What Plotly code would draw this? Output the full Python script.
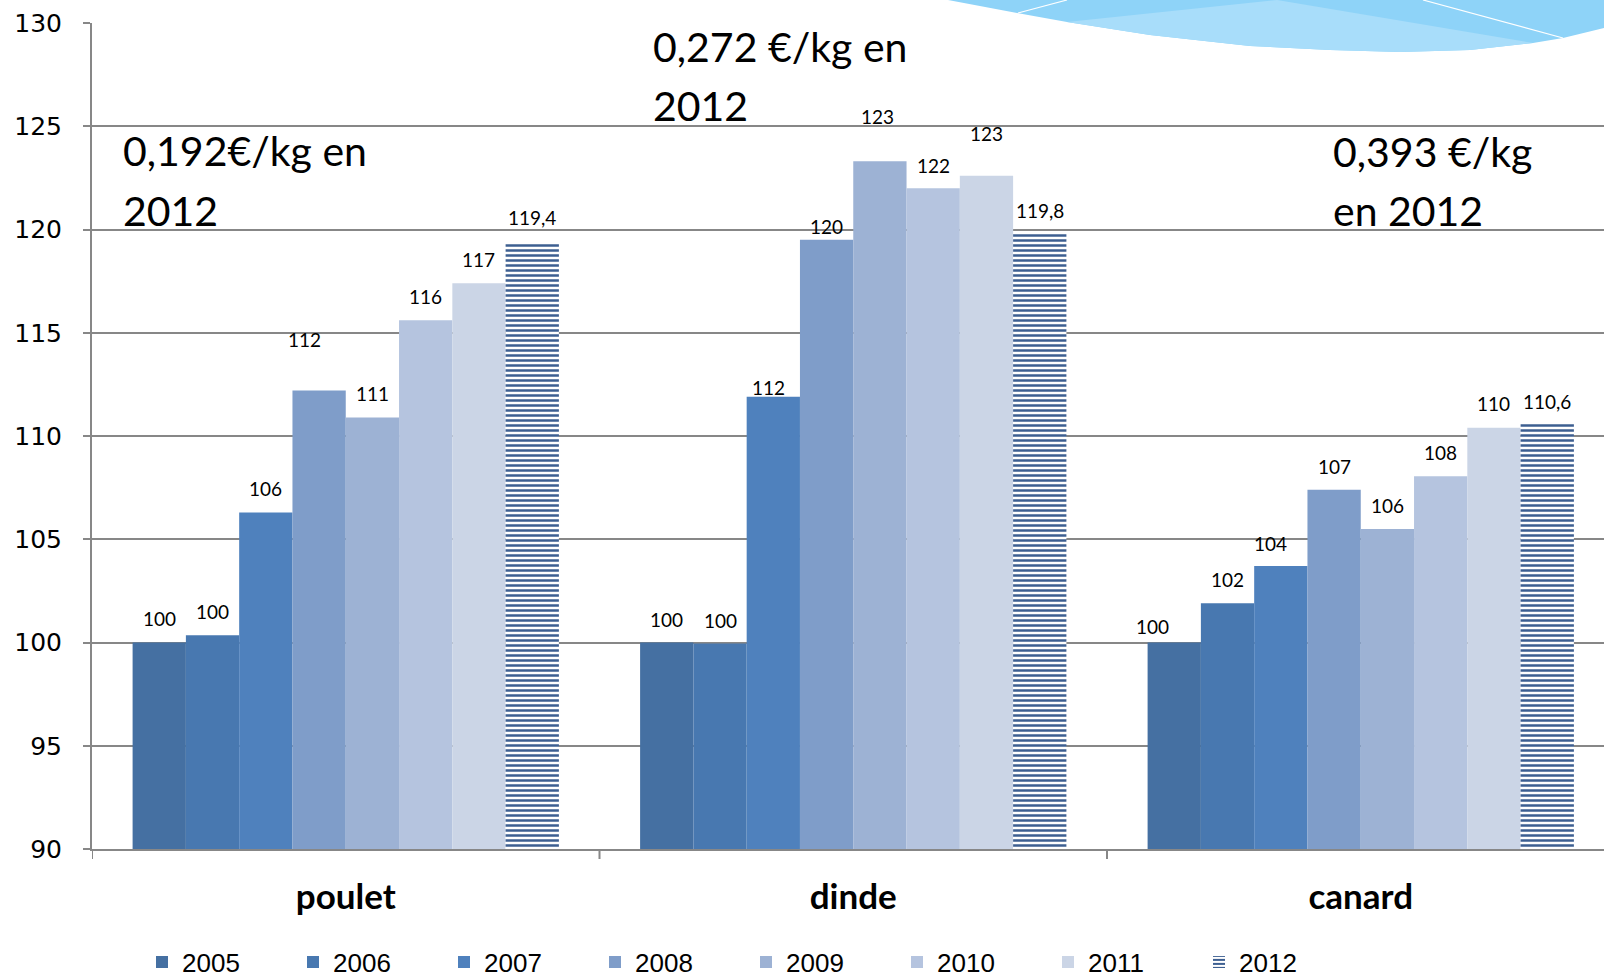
import plotly.graph_objects as go

# ---------------- data ----------------
categories = ["poulet", "dinde", "canard"]
years = ["2005", "2006", "2007", "2008", "2009", "2010", "2011", "2012"]
poulet = [100.0, 100.35, 106.3, 112.2, 110.9, 115.6, 117.4, 119.4]
dinde = [100.0, 99.95, 111.9, 119.5, 123.3, 122.0, 122.6, 119.8]
canard = [100.0, 101.9, 103.7, 107.4, 105.5, 108.05, 110.4, 110.6]
labels_poulet = ["100", "100", "106", "112", "111", "116", "117", "119,4"]
labels_dinde = ["100", "100", "112", "120", "123", "122", "123", "119,8"]
labels_canard = ["100", "102", "104", "107", "106", "108", "110", "110,6"]
notes_poulet = ["0,192€/kg en", "2012"]
notes_dinde = ["0,272 €/kg en", "2012"]
notes_canard = ["0,393 €/kg", "en 2012"]

# ---------------- styles ----------------
colors = ["#4570a2", "#4878b0", "#4f81bd", "#7f9dc9", "#9db2d4", "#b5c4df", "#cbd5e6", "#3d5f91"]
# pixel shifts of the value labels (label centre above bar top)
label_dy = [[24, 24, 24, 51, 24, 24, 24, 24],
            [23, 23, 9, 13, 45, 23, 42, 23],
            [16, 24, 23, 23, 23, 24, 24, 22]]
label_dx = [[0, 0, 0, -15, 0, 0, 0, 0],
            [0, 0, -5, 0, -2, 0, 0, 0],
            [-22, 0, -10, 0, 0, 0, 0, 0]]

OFF = 0  # page body margin (removed via post_script)
W, H = 1604, 977
ML, MR, MT, MB = 92, 0, 23, 128
PW, PH = W - ML - MR, H - MT - MB
CAT_PX = 507.5
BARGAP = 0.16
GRID = "#878787"


def px(xp):
    """page pixel x -> paper coordinate"""
    return (xp - OFF - ML) / PW


def py(yp):
    """page pixel y -> paper coordinate"""
    return (H - MB - (yp - OFF)) / PH


series = [poulet, dinde, canard]
labels = [labels_poulet, labels_dinde, labels_canard]
xs = list(range(len(categories)))

fig = go.Figure()
for i, yr in enumerate(years):
    marker = dict(color=colors[i], line=dict(width=0))
    if yr == "2012":
        marker = dict(color=colors[i], line=dict(width=0),
                      pattern=dict(shape="-", fgcolor=colors[i], bgcolor="white",
                                   size=5, solidity=0.5, fillmode="replace"))
    fig.add_trace(go.Bar(
        name=yr, x=xs, y=[s[i] for s in series], marker=marker,
        hoverinfo="skip",
    ))

n = len(years)
bw = (1 - BARGAP) / n
annotations = []
for c in range(len(categories)):
    for i in range(n):
        annotations.append(dict(
            x=c + (i - (n - 1) / 2) * bw, y=series[c][i], xref="x", yref="y",
            text=labels[c][i], showarrow=False, xanchor="center", yanchor="middle",
            xshift=label_dx[c][i], yshift=label_dy[c][i],
            font=dict(family="Lato", size=19, color="black"),
        ))

# big notes
note_font = dict(family="Lato", size=41, color="black")
for notes, x0, ys in [(notes_poulet, 121, (151, 210)),
                      (notes_dinde, 651, (47, 105)),
                      (notes_canard, 1331, (152, 210))]:
    for t, yy in zip(notes, ys):
        annotations.append(dict(
            x=px(x0), y=py(yy), xref="paper", yref="paper", text=t,
            showarrow=False, xanchor="left", yanchor="middle", font=note_font))

shapes = []
# category boundary ticks on the x axis
for k in range(len(categories) + 1):
    shapes.append(dict(type="line", xref="x", yref="paper", x0=k - 0.5, x1=k - 0.5,
                       y0=0, y1=-10 / PH, line=dict(color=GRID, width=2)))


# decorative blue waves at top right
def path(pts):
    return "M " + " L ".join(f"{px(a):.5f},{py(b):.5f}" for a, b in pts) + " Z"


wave = [(948, -5), (948, 0), (1017, 13), (1067, 22), (1150, 35), (1250, 46), (1330, 50),
        (1400, 52), (1470, 50), (1533, 43), (1563, 38), (1604, 28), (1610, 26), (1610, -5)]
light = [(1067, 22), (1277, 0), (1533, 43), (1470, 50), (1400, 52), (1330, 50),
         (1250, 46), (1150, 35)]
shapes.append(dict(type="path", xref="paper", yref="paper", path=path(wave),
                   fillcolor="#8ed3f8", line=dict(width=0), layer="below"))
shapes.append(dict(type="path", xref="paper", yref="paper", path=path(light),
                   fillcolor="#a8ddfa", line=dict(width=0), layer="below"))
for (a, b), (c, d) in [((1018, 13), (1067, 0)), ((1423, 0), (1563, 38))]:
    shapes.append(dict(type="line", xref="paper", yref="paper", x0=px(a), y0=py(b),
                       x1=px(c), y1=py(d), line=dict(color="white", width=1.2), layer="below"))

xmax = -0.5 + PW / CAT_PX

fig.update_layout(
    width=W, height=H,
    margin=dict(l=ML, r=MR, t=MT, b=MB, pad=0, autoexpand=False),
    paper_bgcolor="white", plot_bgcolor="white",
    barmode="group", bargap=BARGAP, bargroupgap=0,
    showlegend=True,
    legend=dict(orientation="h", x=px(142), xanchor="left", y=py(962), yanchor="middle",
                font=dict(family="Liberation Sans", size=26, color="black"),
                entrywidth=106, entrywidthmode="pixels", itemwidth=30,
                bgcolor="rgba(0,0,0,0)", traceorder="normal"),
    annotations=annotations,
    shapes=shapes,
    xaxis=dict(range=[-0.5, xmax], tickmode="array", tickvals=xs, ticktext=categories,
               ticks="", showgrid=False, zeroline=False, showline=True,
               linecolor=GRID, linewidth=2, ticklabelstandoff=16,
               tickfont=dict(family="Lato", size=35, color="black", weight="bold")),
    yaxis=dict(range=[90, 130], tick0=90, dtick=5, showgrid=True, gridcolor=GRID,
               gridwidth=2, zeroline=False, showline=True, linecolor=GRID, linewidth=2,
               ticks="outside", ticklen=7, tickwidth=2, tickcolor=GRID,
               ticklabelstandoff=16,
               tickfont=dict(family="DejaVu Sans", size=25, color="black")),
    hovermode=False,
)

fig.write_html(
    "out.html",
    config={"displayModeBar": False, "staticPlot": True},
    post_script="document.body.style.margin='0px';document.body.style.overflow='hidden';",
)
